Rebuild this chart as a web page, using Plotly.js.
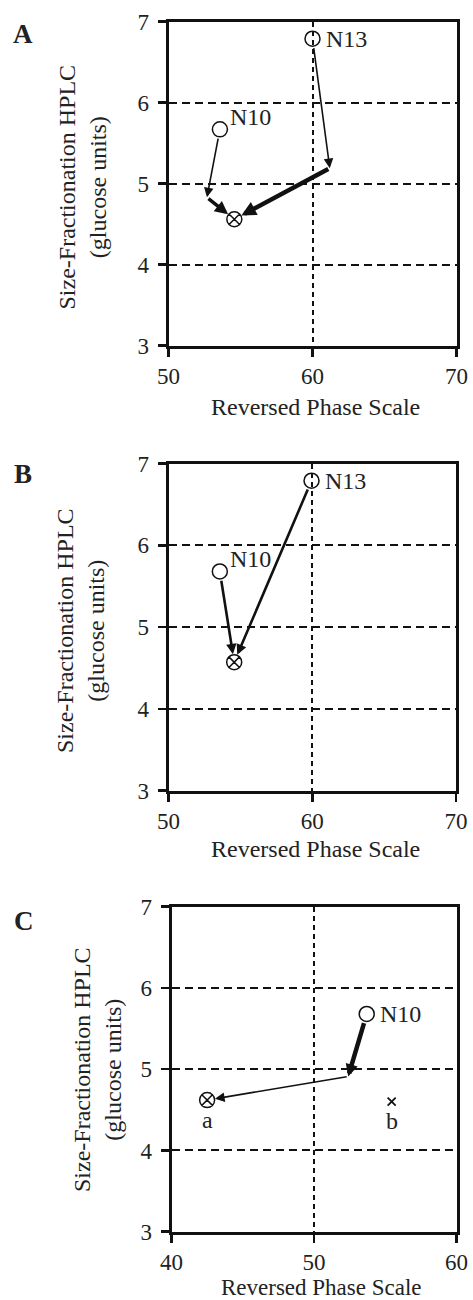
<!DOCTYPE html>
<html><head><meta charset="utf-8">
<script src="https://cdn.plot.ly/plotly-3.0.1.min.js"></script>
<style>html,body{margin:0;padding:0;background:#fff}</style>
</head><body><div id="chart" style="width:473px;height:1300px"></div>
<script>
// ---------- data ----------
const xTicksAB = [50, 60, 70];
const xTicksC = [40, 50, 60];
const yTicks = [3, 4, 5, 6, 7];
const xRangeAB = [50, 70];
const xRangeC = [40, 60];
const yRange = [3, 7];

// Panel A
const aStartX = [60.0, 53.57];
const aStartY = [6.79, 5.67];
const aStartLabels = ['N13', 'N10'];
const aEndX = [54.57];
const aEndY = [4.56];
const aPathN13X = [60.0, 61.2, 54.57];
const aPathN13Y = [6.79, 5.19, 4.56];
const aPathN10X = [53.57, 52.67, 54.57];
const aPathN10Y = [5.67, 4.83, 4.56];

// Panel B
const bStartX = [59.95, 53.57];
const bStartY = [6.79, 5.68];
const bStartLabels = ['N13', 'N10'];
const bEndX = [54.57];
const bEndY = [4.57];
const bPathN13X = [59.95, 54.57];
const bPathN13Y = [6.79, 4.57];
const bPathN10X = [53.57, 54.57];
const bPathN10Y = [5.68, 4.57];

// Panel C
const cStartX = [53.7];
const cStartY = [5.68];
const cStartLabels = ['N10'];
const cAX = [42.5];
const cAY = [4.62];
const cBX = [55.45];
const cBY = [4.6];
const cEndLabels = ['a', 'b'];
const cPathX = [53.7, 52.4, 42.5];
const cPathY = [5.68, 4.91, 4.62];

// ---------- style ----------
const FONT = 'Liberation Serif, Times New Roman, Times, serif';
const INK = '#111';
const TXT = '#222';
const W = 473, H = 1300;
const px = v => v / W;
const py = v => 1 - v / H;

function xaxis(domain, range, ticks, anchor) {
  return {
    domain, range, anchor, tickvals: ticks, ticktext: ticks.map(String),
    ticks: 'outside', ticklen: 8, tickwidth: 2.5, tickcolor: INK,
    showline: true, mirror: true, linewidth: 3, linecolor: INK,
    showgrid: true, gridcolor: INK, gridwidth: 2, griddash: '5px,4px',
    zeroline: false, fixedrange: true,
    tickfont: {family: FONT, size: 23, color: TXT}
  };
}
function yaxis(domain, anchor) {
  return {
    domain, range: yRange, anchor, tickvals: yTicks, ticktext: yTicks.map(String),
    ticks: 'outside', ticklen: 8, tickwidth: 2.5, tickcolor: INK, ticklabelstandoff: 4,
    showline: true, mirror: true, linewidth: 3, linecolor: INK,
    showgrid: true, gridcolor: INK, gridwidth: 2, griddash: '8px,5px',
    zeroline: false, fixedrange: true,
    tickfont: {family: FONT, size: 23, color: TXT}
  };
}

function startTrace(xs, ys, xa, ya) {
  return {x: xs, y: ys, xaxis: xa, yaxis: ya, mode: 'markers', type: 'scatter', hoverinfo: 'skip',
    marker: {symbol: 'circle-open', size: 15, color: INK, line: {width: 1.5, color: INK}}};
}
function endTrace(xs, ys, xa, ya) {
  return {x: xs, y: ys, xaxis: xa, yaxis: ya, mode: 'markers', type: 'scatter', hoverinfo: 'skip',
    marker: {symbol: 'circle-x-open', size: 15, color: INK, line: {width: 1.5, color: INK}}};
}

const data = [
  startTrace(aStartX, aStartY, 'x', 'y'),
  endTrace(aEndX, aEndY, 'x', 'y'),
  startTrace(bStartX, bStartY, 'x2', 'y2'),
  endTrace(bEndX, bEndY, 'x2', 'y2'),
  startTrace(cStartX, cStartY, 'x3', 'y3'),
  endTrace(cAX, cAY, 'x3', 'y3'),
  {x: cBX, y: cBY, xaxis: 'x3', yaxis: 'y3', mode: 'markers', type: 'scatter', hoverinfo: 'skip',
   marker: {symbol: 'x-thin-open', size: 8, color: INK, line: {width: 1.8, color: INK}}}
];

const annotations = [];
function pathArrows(xr, yr, xs, ys, widths, sizes, headOff, tailOff) {
  for (let i = 0; i < xs.length - 1; i++) {
    annotations.push({
      xref: xr, yref: yr, axref: xr, ayref: yr,
      x: xs[i + 1], y: ys[i + 1], ax: xs[i], ay: ys[i],
      showarrow: true, arrowhead: 2, arrowsize: sizes[i], arrowwidth: widths[i],
      arrowcolor: INK, standoff: headOff[i], startstandoff: tailOff[i], text: ''
    });
  }
}
pathArrows('x', 'y', aPathN13X, aPathN13Y, [1.6, 4.5], [1.2, 0.65], [0, 8], [8, 0]);
pathArrows('x', 'y', aPathN10X, aPathN10Y, [1.6, 3.5], [1.2, 0.75], [0, 8], [8, 0]);
pathArrows('x2', 'y2', bPathN13X, bPathN13Y, [2.6], [0.8], [8], [8]);
pathArrows('x2', 'y2', bPathN10X, bPathN10Y, [2.6], [0.8], [8], [8]);
pathArrows('x3', 'y3', cPathX, cPathY, [4.5, 1.6], [0.55, 1.2], [0, 8], [8, 0]);

function label(xr, yr, x, y, text, xshift, yshift, anchor) {
  annotations.push({xref: xr, yref: yr, x, y, text, showarrow: false,
    xanchor: anchor || 'left', yanchor: 'middle', xshift, yshift,
    font: {family: FONT, size: 24, color: TXT}});
}
label('x', 'y', aStartX[0], aStartY[0], aStartLabels[0], 11, 0);
label('x', 'y', aStartX[1], aStartY[1], aStartLabels[1], 8, 12);
label('x2', 'y2', bStartX[0], bStartY[0], bStartLabels[0], 11, 0);
label('x2', 'y2', bStartX[1], bStartY[1], bStartLabels[1], 8, 12);
label('x3', 'y3', cStartX[0], cStartY[0], cStartLabels[0], 11, 0);
label('x3', 'y3', cAX[0], cAY[0], cEndLabels[0], 0, -20, 'center');
label('x3', 'y3', cBX[0], cBY[0], cEndLabels[1], 0, -19, 'center');

const yTitle = 'Size-Fractionation HPLC<br>(glucose units)';
const xTitle = 'Reversed Phase Scale';
function paperText(x, y, text, size, angle) {
  annotations.push({xref: 'paper', yref: 'paper', x: px(x), y: py(y), text, showarrow: false,
    xanchor: 'center', yanchor: 'middle', textangle: angle || 0, borderpad: 0,
    font: {family: FONT, size, color: TXT}});
}
paperText(81.5, 187, yTitle, 24, -90);
paperText(81, 631, yTitle, 24, -90);
paperText(97, 1070, yTitle, 24, -90);
paperText(315, 407, xTitle, 24);
paperText(315, 849, xTitle, 24);
paperText(321.5, 1287, xTitle, 23);
paperText(22.5, 33.5, '<b>A</b>', 27);
paperText(22.5, 473.5, '<b>B</b>', 27);
paperText(23.5, 921, '<b>C</b>', 27);

const layout = {
  width: W, height: H, margin: {l: 0, r: 0, t: 0, b: 0},
  paper_bgcolor: '#fff', plot_bgcolor: '#fff', showlegend: false,
  xaxis: xaxis([px(168.5), px(456.5)], xRangeAB, xTicksAB, 'y'),
  yaxis: yaxis([py(345.5), py(21.7)], 'x'),
  xaxis2: xaxis([px(168.5), px(456)], xRangeAB, xTicksAB, 'y2'),
  yaxis2: yaxis([py(790.5), py(463.5)], 'x2'),
  xaxis3: xaxis([px(171.5), px(456.5)], xRangeC, xTicksC, 'y3'),
  yaxis3: yaxis([py(1231.7), py(906.7)], 'x3'),
  annotations
};
Plotly.newPlot('chart', data, layout, {displayModeBar: false, staticPlot: true});
</script></body></html>
